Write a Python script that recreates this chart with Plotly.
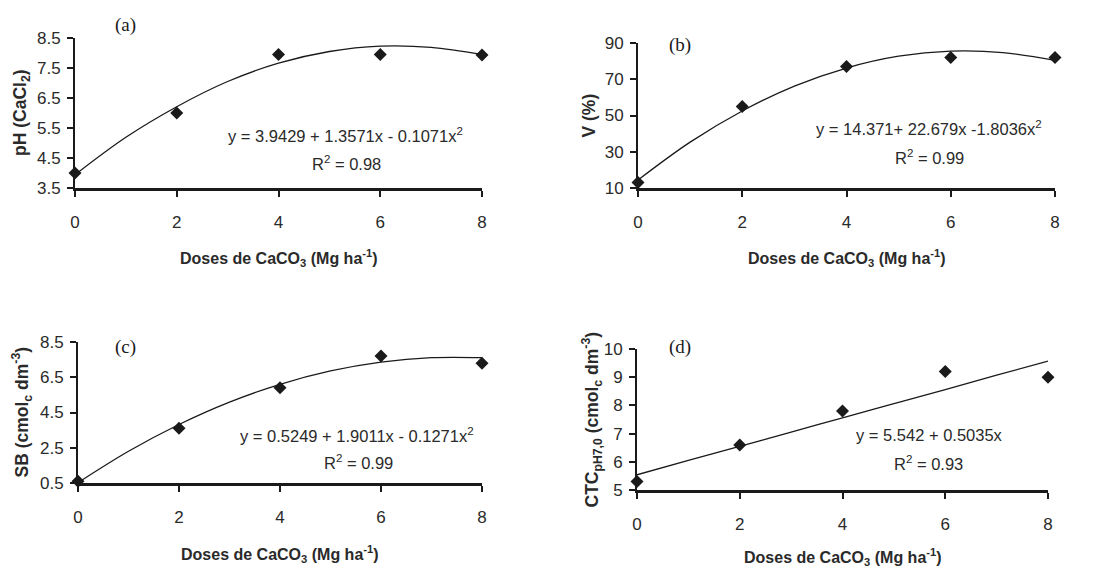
import plotly.graph_objects as go

W, H = 1099, 569

doses = [0, 2, 4, 6, 8]
ph_vals = [4.0, 6.0, 7.95, 7.95, 7.93]
v_vals = [13, 55, 77, 82, 82]
sb_vals = [0.6, 3.6, 5.9, 7.7, 7.3]
ctc_vals = [5.3, 6.6, 7.8, 9.2, 9.0]

fit_x = [0, 1, 2, 3, 4, 5, 6, 7, 8]
ph_fit = [3.94, 5.19, 6.21, 7.05, 7.66, 8.05, 8.23, 8.19, 7.95]
v_fit = [14.4, 35.3, 52.5, 66.2, 76.2, 82.7, 85.5, 84.7, 80.4]
sb_fit = [0.52, 2.30, 3.82, 5.09, 6.10, 6.86, 7.36, 7.61, 7.61]
ctc_fit = [5.54, 6.05, 6.55, 7.05, 7.56, 8.06, 8.56, 9.07, 9.57]

panels = [
    dict(label="(a)", y=ph_vals, fit=ph_fit, yrange=[3.5, 8.5], dtick=1,
         ytitle="pH (CaCl<sub>2</sub>)",
         eq="y = 3.9429 + 1.3571x - 0.1071x<sup>2</sup>", r2="R<sup>2</sup> = 0.98",
         box=(75, 482, 38, 188), lab=(125, 25), eqpos=(345, 135), r2pos=(346, 163),
         ytx=21, xtitle_y=258),
    dict(label="(b)", y=v_vals, fit=v_fit, yrange=[10, 90], dtick=20,
         ytitle="V (%)",
         eq="y = 14.371+ 22.679x -1.8036x<sup>2</sup>", r2="R<sup>2</sup> = 0.99",
         box=(638, 1055, 43, 188), lab=(680, 45), eqpos=(929, 128), r2pos=(929, 157),
         ytx=588, xtitle_y=258),
    dict(label="(c)", y=sb_vals, fit=sb_fit, yrange=[0.5, 8.5], dtick=2,
         ytitle="SB (cmol<sub>c</sub> dm<sup>-3</sup>)",
         eq="y = 0.5249 + 1.9011x - 0.1271x<sup>2</sup>", r2="R<sup>2</sup> = 0.99",
         box=(78, 482, 342, 483), lab=(125, 347), eqpos=(357, 435), r2pos=(358, 462),
         ytx=22, xtitle_y=554),
    dict(label="(d)", y=ctc_vals, fit=ctc_fit, yrange=[5, 10], dtick=1,
         ytitle="CTC<sub>pH7,0</sub> (cmol<sub>c</sub> dm<sup>-3</sup>)",
         eq="y = 5.542 + 0.5035x", r2="R<sup>2</sup> = 0.93",
         box=(637, 1048, 349, 490), lab=(680, 347), eqpos=(929, 435), r2pos=(928, 463),
         ytx=592, xtitle_y=557),
]

xtitle = "<b>Doses de CaCO<sub>3</sub> (Mg ha<sup>-1</sup>)</b>"
INK = "#1a1a1a"
TXT = "#2a2a2a"
SANS = "Liberation Sans, Arial, sans-serif"
SERIF = "Liberation Serif, Times New Roman, serif"

def px(x):
    return x / W

def py(y):
    return 1 - y / H

fig = go.Figure()
layout = dict(
    width=W, height=H, margin=dict(l=0, r=0, t=0, b=0, autoexpand=False),
    paper_bgcolor="white", plot_bgcolor="white", showlegend=False,
    font=dict(family=SANS, color=INK, size=15),
)
annotations = []

def ann(text, x, y, font, angle=0):
    annotations.append(dict(text=text, x=px(x), y=py(y), xref="paper", yref="paper",
                            xanchor="center", yanchor="middle", showarrow=False,
                            textangle=angle, font=font))

for i, p in enumerate(panels, start=1):
    xa = "x" if i == 1 else f"x{i}"
    ya = "y" if i == 1 else f"y{i}"
    x0, x1, yt, yb = p["box"]
    fig.add_trace(go.Scatter(x=fit_x, y=p["fit"], mode="lines",
                             line=dict(color=INK, width=1.3, shape="spline"),
                             xaxis=xa, yaxis=ya, hoverinfo="skip"))
    fig.add_trace(go.Scatter(x=doses, y=p["y"], mode="markers",
                             marker=dict(symbol="diamond", size=10, color=INK),
                             cliponaxis=False, xaxis=xa, yaxis=ya))
    layout["xaxis" if i == 1 else f"xaxis{i}"] = dict(
        domain=[px(x0), px(x1)], anchor=ya, range=[0, 8], automargin=False,
        tickvals=[0, 2, 4, 6, 8], ticks="outside", ticklen=6, tickwidth=1.5,
        tickcolor=INK, showline=True, linecolor=INK, linewidth=2.5,
        showgrid=False, zeroline=False, ticklabelstandoff=11,
        tickfont=dict(size=17, family=SANS, color=TXT),
    )
    layout["yaxis" if i == 1 else f"yaxis{i}"] = dict(
        domain=[py(yb), py(yt)], anchor=xa, range=p["yrange"], dtick=p["dtick"],
        tick0=p["yrange"][0], ticks="outside", ticklen=6, tickwidth=1.5, automargin=False,
        tickcolor=INK, showline=True, linecolor=INK, linewidth=2,
        showgrid=False, zeroline=False, ticklabelstandoff=3,
        tickfont=dict(size=17, family=SANS, color=TXT),
    )
    ann(p["label"], p["lab"][0], p["lab"][1], dict(family=SERIF, size=19, color=INK))
    ann(p["eq"], p["eqpos"][0], p["eqpos"][1], dict(family=SANS, size=16.5, color=TXT))
    ann(p["r2"], p["r2pos"][0], p["r2pos"][1], dict(family=SANS, size=16.5, color=TXT))
    ann(xtitle, (x0 + x1) / 2, p["xtitle_y"], dict(family=SANS, size=16, color=TXT))
    ann("<b>" + p["ytitle"] + "</b>", p["ytx"], (yt + yb) / 2,
        dict(family=SANS, size=17.5, color=TXT), angle=-90)

layout["annotations"] = annotations
fig.update_layout(**layout)
fig.write_html("out.html", config={"displayModeBar": False},
               post_script="document.body.style.margin='0';document.body.style.overflow='hidden';")
